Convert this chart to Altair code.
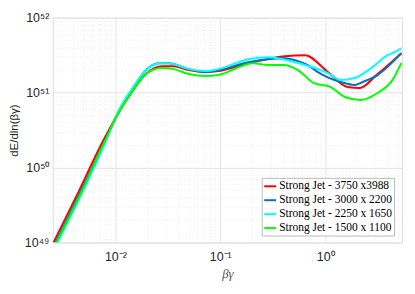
import altair as alt
import pandas as pd

series_names = ["Strong Jet - 3750 x3988", "Strong Jet - 3000 x 2200",
                "Strong Jet - 2250 x 1650", "Strong Jet - 1500 x 1100"]
series_colors = ["#ff0000", "#0a6fc2", "#00ffff", "#00ff00"]

red_x = [0.00257, 0.004335, 0.00748, 0.01084, 0.01439, 0.01954, 0.02773, 0.03606, 0.05000, 0.07244,
         0.09616, 0.1849, 0.4150, 0.6427, 1.062, 1.641, 2.133, 3.162, 5.333]
red_y = [1.0e49, 4.37e49, 2.14e50, 5.52e50, 1.019e51, 1.766e51, 2.254e51, 2.254e51, 1.995e51, 1.879e51,
         1.936e51, 2.472e51, 3.062e51, 3.155e51, 1.879e51, 1.186e51, 1.151e51, 1.766e51, 3.357e51]

blue_x = [0.00269, 0.00453, 0.00782, 0.01084, 0.01439, 0.01954, 0.02594, 0.03228, 0.05000, 0.07244,
          0.09616, 0.1849, 0.4150, 0.5508, 0.6855, 0.8531, 1.409, 1.914, 2.280, 3.162, 5.333]
blue_y = [1.0e49, 4.37e49, 2.14e50, 5.70e50, 1.084e51, 1.995e51, 2.472e51, 2.472e51, 2.056e51, 1.879e51,
          1.995e51, 2.547e51, 2.877e51, 2.630e51, 2.328e51, 1.879e51, 1.384e51, 1.262e51, 1.384e51,
          1.714e51, 3.357e51]

cyan_x = [0.00281, 0.00473, 0.00799, 0.01084, 0.01439, 0.01954, 0.02594, 0.03228, 0.05000, 0.07244,
          0.09616, 0.1849, 0.2864, 0.5508, 1.062, 1.409, 1.914, 2.831, 3.936, 4.581, 5.333]
cyan_y = [1.0e49, 4.37e49, 2.14e50, 5.88e50, 1.117e51, 1.995e51, 2.472e51, 2.472e51, 2.056e51, 1.936e51,
          2.056e51, 2.793e51, 2.972e51, 2.472e51, 1.820e51, 1.469e51, 1.563e51, 2.188e51, 3.155e51,
          3.459e51, 3.908e51]

green_x = [0.00274, 0.00463, 0.00782, 0.01084, 0.01439, 0.01954, 0.02773, 0.03606, 0.05000, 0.07244,
           0.09616, 0.2065, 0.2864, 0.3972, 0.5508, 0.7816, 1.132, 1.538, 2.183, 3.162, 4.385, 5.333]
green_y = [1.0e49, 4.37e49, 2.14e50, 5.52e50, 1.019e51, 1.766e51, 2.123e51, 2.056e51, 1.766e51, 1.661e51,
           1.714e51, 2.472e51, 2.328e51, 2.328e51, 1.995e51, 1.340e51, 1.186e51, 8.75e50, 7.98e50,
           9.89e50, 1.469e51, 2.472e51]

x_domain = [0.00253, 5.41]
y_domain = [1e49, 1e52]

rows = []
for i, (name, xs, ys) in enumerate(zip(series_names, [red_x, blue_x, cyan_x, green_x],
                                       [red_y, blue_y, cyan_y, green_y])):
    for xv, yv in zip(xs, ys):
        rows.append({"series": name, "order": i, "x": xv, "y": yv})
df = pd.DataFrame(rows)

sup = {"-": "\u207b", "0": "\u2070", "1": "\u00b9", "2": "\u00b2", "3": "\u00b3", "4": "\u2074",
       "5": "\u2075", "6": "\u2076", "7": "\u2077", "8": "\u2078", "9": "\u2079"}


def label_expr(exps):
    expr = "''"
    for e in exps:
        s = "10" + "".join(sup[c] for c in str(e))
        expr = f"abs(log(datum.value)/LN10 - ({e})) < 1e-6 ? '{s}' : " + expr
    return expr


x_vals = [m * 10.0 ** e for e in range(-3, 1) for m in range(1, 10)
          if x_domain[0] <= m * 10.0 ** e <= x_domain[1]]
y_vals = [m * 10.0 ** e for e in range(49, 52) for m in range(1, 10)] + [1e52]

major_test = "abs(log(datum.value)/LN10 - round(log(datum.value)/LN10)) < 1e-6"

x_axis = alt.Axis(values=x_vals, labelExpr=label_expr([-2, -1, 0]), ticks=False,
                  grid=True, gridColor={"condition": {"test": major_test, "value": "#e4e4e4"}, "value": "#ececec"},
                  gridDash={"condition": {"test": major_test, "value": []}, "value": [1, 2]},
                  domain=False, labelFont="Liberation Sans", labelFontSize=12.5, labelColor="#262626",
                  labelPadding=8, labelOverlap=False, title="\u03b2\u03b3", titleFont="Liberation Serif",
                  titleFontStyle="italic", titleFontWeight="normal", titleFontSize=13,
                  titleColor="#555555", titlePadding=5)
y_axis = alt.Axis(values=y_vals, labelExpr=label_expr([49, 50, 51, 52]), ticks=False,
                  grid=True, gridColor={"condition": {"test": major_test, "value": "#e4e4e4"}, "value": "#ececec"},
                  gridDash={"condition": {"test": major_test, "value": []}, "value": [1, 2]},
                  domain=False, labelFont="Liberation Sans", labelFontSize=12.5, labelColor="#262626",
                  labelPadding=4, labelOverlap=False, title="dE/dln(\u03b2\u03b3)",
                  titleFont="Liberation Sans", titleFontWeight="normal", titleFontSize=11.5,
                  titleColor="#262626", titlePadding=5)

chart = alt.Chart(df).mark_line(strokeWidth=2, interpolate="monotone", clip=True).encode(
    x=alt.X("x:Q", scale=alt.Scale(type="log", domain=x_domain, nice=False), axis=x_axis),
    y=alt.Y("y:Q", scale=alt.Scale(type="log", domain=y_domain, nice=False), axis=y_axis),
    color=alt.Color("series:N", sort=series_names,
                    scale=alt.Scale(domain=series_names, range=series_colors),
                    legend=alt.Legend(orient="none", legendX=210, legendY=161, title=None,
                                      symbolType="stroke", symbolSize=144, symbolStrokeWidth=2,
                                      labelFont="Liberation Serif", labelFontSize=11.5,
                                      labelColor="#000000", labelOffset=2, rowPadding=1,
                                      padding=1.5, strokeColor="#bbbbbb", fillColor="#ffffff",
                                      cornerRadius=0, labelLimit=300)),
    order=alt.Order("order:Q"),
).properties(
    width=351, height=226,
    autosize=alt.AutoSizeParams(type="none"),
    padding={"left": 45, "top": 9, "right": 5, "bottom": 40},
).configure_view(stroke="#c0c0c0", strokeWidth=1).configure(background="#ffffff")

chart.save("out.html", embed_options={"renderer": "svg", "actions": False})
